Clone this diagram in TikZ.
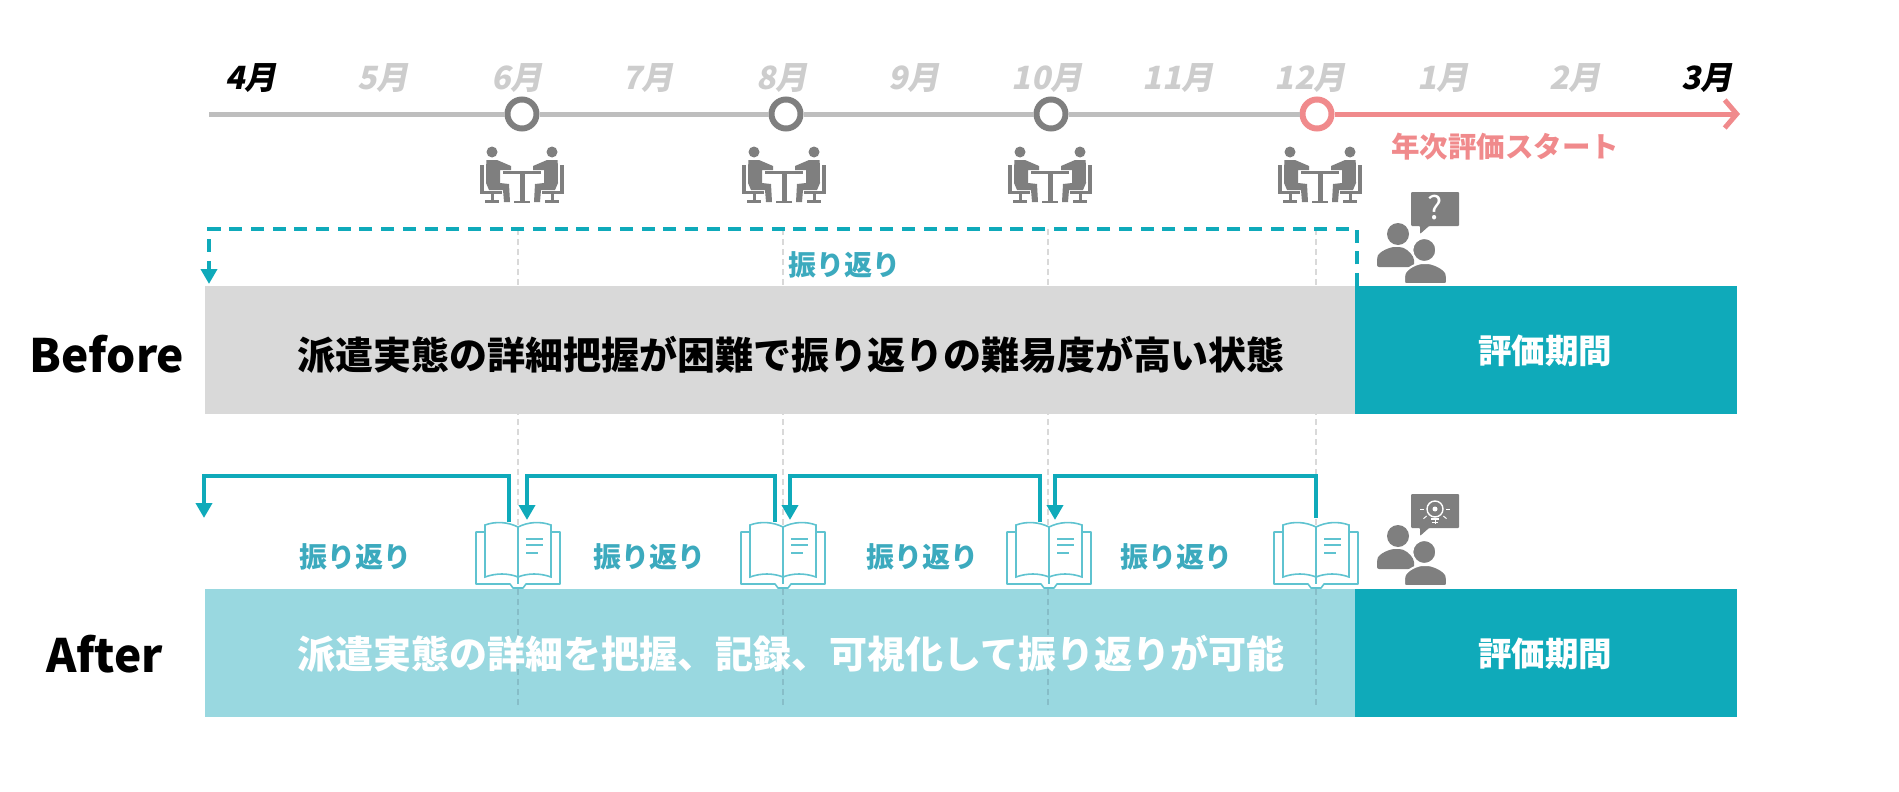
\documentclass[tikz,border=0pt]{standalone}
\usepackage{fontspec}
\usepackage{xcolor}
\setmainfont{Noto Sans CJK JP}
\newfontfamily\monthfont[FakeSlant=0.2]{Noto Sans CJK JP}
\definecolor{hyoteal}{RGB}{15, 170, 186}
\definecolor{hyolight}{RGB}{153, 216, 224}
\definecolor{hyolabel}{RGB}{60, 170, 190}
\definecolor{hyoline}{RGB}{95, 195, 208}
\definecolor{hyopink}{RGB}{240, 138, 140}
\definecolor{hyogray}{RGB}{127, 127, 127}
\definecolor{hyorail}{RGB}{190, 190, 190}
\definecolor{hyopale}{RGB}{205, 205, 205}
\definecolor{hyobar}{RGB}{217, 217, 217}
\definecolor{hyoguide}{RGB}{135, 190, 200}
\usetikzlibrary{arrows.meta, positioning, calc}

\tikzset{
    meetinghalf/.pic={
        \fill[hyogray] (-30,-23) circle (5.5);
        \fill[hyogray] (-35.7,-15) -- (-25,-15) -- (-11,-9) -- (-11,-5) -- (-22,-5) -- (-22,8) -- (-13,9)
            -- (-12,27) -- (-18,27) -- (-19,15) -- (-33,15) -- (-36,8) -- cycle;
        \fill[hyogray] (-41.6,-10) rectangle (-37.6,19);
        \fill[hyogray] (-41.6,16) rectangle (-20,19);
        \fill[hyogray] (-31.5,19) rectangle (-28.5,26);
        \fill[hyogray] (-37,25) rectangle (-23,28);
    },
    meetingicon/.pic={
        \pic {meetinghalf};
        \pic[xscale=-1] {meetinghalf};
        \fill[hyogray] (-19,-4) rectangle (19,-1);
        \fill[hyogray] (-2.5,-1) rectangle (2.5,26);
        \fill[hyogray] (-8,25.5) rectangle (8,28);
    },
    bookicon/.pic={
        \draw[hyoline, line width=1.6pt, line join=round, fill=white] (-34,10) -- (-42,10) -- (-42,62) -- (-8,62) -- (-5,66)
            -- (5,66) -- (8,62) -- (42,62) -- (42,10) -- (34,10);
        \draw[hyoline, line width=1.6pt, fill=white] (0,5) .. controls (-10,0) and (-22,-1) .. (-33,3) -- (-33,55)
            .. controls (-22,51) and (-10,51) .. (0,55) .. controls (10,51) and (22,51) .. (33,55) -- (33,3)
            .. controls (22,-1) and (10,0) .. (0,5) -- cycle;
        \draw[hyoline, line width=1.4pt] (0,5) -- (0,62);
        \draw[hyoline, line width=1.6pt] (8,17) -- (25,17) (8,23) -- (25,23) (8,31) -- (20,31);
    },
    personicon/.pic={
        \fill[hyogray, rounded corners=1pt] (34,0) -- (82,0) -- (82,34) -- (52,34) -- (43,42) -- (43,34) -- (34,34) -- cycle;
        \fill[hyogray] (21,42) circle (11);
        \fill[hyogray, rounded corners=2pt] (0,75) -- (0,66) .. controls (2,60) and (12,55) .. (20,55)
            .. controls (28,55) and (33,60) .. (37,66) -- (37,75) -- cycle;
        \fill[hyogray, draw=white, line width=2pt] (47.3,58) circle (12);
        \fill[hyogray, draw=white, line width=2pt, rounded corners=2pt] (27,92) -- (27,83) .. controls (30,76) and (40,71) .. (48,71)
            .. controls (56,71) and (67,76) .. (70,83) -- (70,92) -- cycle;
    },
    bulbicon/.pic={
        \draw[white, line width=1.4pt] (0,-1) circle (8);
        \fill[white] (0,-1) circle (2.5);
        \draw[white, line width=1.4pt] (-4,9) -- (4,9) (-3,12.5) -- (3,12.5);
        \foreach \a in {0,40,90,140,180} {
            \draw[white, line width=1pt] (0,-1) ++(\a:11) -- ++(\a:4);
        }
    }
}

\begin{document}
\begin{tikzpicture}[x=1pt, y=-1pt, >=Stealth,
    monthlabel/.style={font=\monthfont\bfseries\fontsize{32}{34}\selectfont, text=hyopale, inner sep=0pt},
    monthend/.style={monthlabel, text=black},
    markring/.style={circle, draw=hyogray, line width=6pt, fill=white, minimum size=29pt, inner sep=0pt},
    rail/.style={line width=5pt, draw=hyorail},
    gridline/.style={line width=1.4pt, dash pattern=on 6pt off 4pt},
    band/.style={minimum height=128pt, inner sep=0pt, outer sep=0pt},
    bandtext/.style={font=\bfseries\fontsize{38}{40}\selectfont, inner sep=0pt},
    evaltext/.style={font=\bfseries\fontsize{33.5}{36}\selectfont, text=white, inner sep=0pt},
    rowtitle/.style={font=\bfseries\fontsize{46}{48}\selectfont, text=black, inner sep=0pt},
    looklabel/.style={font=\bfseries\fontsize{28}{30}\selectfont, text=hyolabel, inner sep=0pt},
    loopline/.style={line width=4.5pt, draw=hyoteal, ->, >={Triangle[width=16pt, length=15pt]}}
]
\useasboundingbox (0,0) rectangle (1899,792);

% === Months ===
\foreach \m/\x in {5/383, 6/517, 7/648, 8/782, 9/914, 10/1047, 11/1178, 12/1310, 1/1443, 2/1575} {
    \node[monthlabel] (label\m) at (\x,78) {\m 月};
}
\node[monthend] (label4) at (251,78) {4月};
\node[monthend] (label3) at (1707,78) {3月};

% === Bars ===
\node[band, fill=hyobar, minimum width=1150pt] (beforebar) at (780,350) {};
\node[band, fill=hyoteal, minimum width=382pt] (beforeeval) at (1546,350) {};
\node[band, fill=hyolight, minimum width=1150pt] (afterbar) at (780,653) {};
\node[band, fill=hyoteal, minimum width=382pt] (aftereval) at (1546,653) {};

% === Timeline ===
\coordinate (start) at (209,114);
\coordinate (finish) at (1740,114);
\node[markring] (m6) at (522,114) {};
\node[markring] (m8) at (786,114) {};
\node[markring] (m10) at (1051,114) {};
\node[markring, draw=hyopink] (m12) at (1317,114) {};
\draw[rail] (start) -- (m6);
\draw[rail] (m6) -- (m8);
\draw[rail] (m8) -- (m10);
\draw[rail] (m10) -- (m12);
\draw[line width=5pt, draw=hyopink, -{Straight Barb[length=12pt, width=28pt]}] (m12) -- (finish);
\node[font=\bfseries\fontsize{28.5}{30}\selectfont, text=hyopink, inner sep=0pt] (startlabel) at (1505,147) {年次評価スタート};

% === Meetings ===
\foreach \x in {522,784,1050,1320} {
    \pic at (\x,175) {meetingicon};
}

% === Vertical guides ===
\foreach \i/\x in {a/518, b/783, c/1048, d/1316} {
    \coordinate (top\i) at (\x,229);
    \coordinate (mid\i) at (\x,589);
    \coordinate (bottom\i) at (\x,707);
    \draw[gridline, draw=hyobar] (top\i) -- (mid\i);
    \draw[gridline, draw=hyoguide] (mid\i) -- (bottom\i);
}

% === Before ===
\coordinate (dashstart) at (1357,286);
\coordinate (dashtop) at (800,229);
\coordinate (dashend) at (209,284);
\draw[line width=4.5pt, draw=hyoteal, dash pattern=on 13pt off 8.7pt, ->, >={Triangle[width=16pt, length=15pt]}]
    (dashstart) |- (dashtop) -| (dashend);
\node[looklabel] (lookbefore) at (844,265) {振り返り};
\node[bandtext, text=black] (beforetext) at (791,355) {派遣実態の詳細把握が困難で振り返りの難易度が高い状態};
\node[evaltext] (beforeevaltext) at (1545,351) {評価期間};
\node[rowtitle] (beforetitle) at (107,354) {Before};
\pic at (1377,192) {personicon};
\node[font=\fontsize{32}{34}\selectfont, text=white, inner sep=0pt] (question) at (1435,208) {?};

% === After ===
\foreach \i/\x in {1/518, 2/783, 3/1049, 4/1316} {
    \pic at (\x,522) {bookicon};
}
\coordinate (back1) at (509,522);
\coordinate (back2) at (775,522);
\coordinate (back3) at (1040,522);
\coordinate (back4) at (1316,518);
\coordinate (tip1) at (204,518);
\coordinate (tip2) at (527,520);
\coordinate (tip3) at (790,520);
\coordinate (tip4) at (1055,520);
\coordinate (over) at (800,476);
\foreach \i in {1,2,3,4} {
    \draw[loopline] (back\i) -- (back\i |- over) -- (tip\i |- over) -- (tip\i);
}

\node[looklabel] (look1) at (355,557) {振り返り};
\node[looklabel] (look2) at (649,557) {振り返り};
\node[looklabel] (look3) at (922,557) {振り返り};
\node[looklabel] (look4) at (1176,557) {振り返り};
\node[bandtext, text=white] (aftertext) at (791,654) {派遣実態の詳細を把握、記録、可視化して振り返りが可能};
\node[evaltext] (afterevaltext) at (1545,654) {評価期間};
\node[rowtitle] (aftertitle) at (105,654) {After};
\pic at (1377,494) {personicon};
\pic at (1435,510) {bulbicon};

\end{tikzpicture}
\end{document}
